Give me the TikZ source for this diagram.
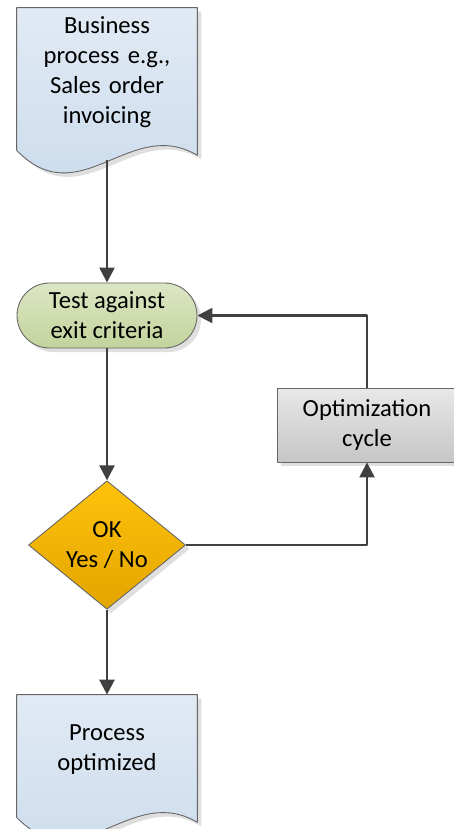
\documentclass[tikz,border=0pt]{standalone}
\usepackage{fontspec}
\setmainfont{Carlito}
\usepackage{tikz}
\usetikzlibrary{positioning,arrows.meta,calc,shapes.geometric,shadows}

% wavy lower edge of a document symbol, built on a node's anchors
\newcommand\docoutline[1]{(#1.north west) -- (#1.north east) -- ($(#1.south east)+(0,-0.1)$)
  .. controls ($(#1.south)+(0.46,0.7)$) and ($(#1.south)+(-0.54,-1.3)$) .. (#1.south west) -- cycle}

\definecolor{docTop}{HTML}{E1EAF4}
\definecolor{docBot}{HTML}{C9DAEC}
\definecolor{termTop}{HTML}{DCE6C4}
\definecolor{termBot}{HTML}{C3D39C}
\definecolor{decTop}{HTML}{FFC20A}
\definecolor{decBot}{HTML}{E3A500}
\definecolor{optTop}{HTML}{E8E8E8}
\definecolor{optBot}{HTML}{C6C6C6}
\definecolor{edge}{HTML}{404040}

\begin{document}
\begin{tikzpicture}[
    font=\fontsize{14}{17}\selectfont,
    line join=round,
    >={Triangle[width=0.3cm,length=0.3cm]},
    every node/.style={inner sep=2pt},
    docbox/.style={minimum width=3.6cm, text width=3.4cm, align=center},
    docfill/.style={draw=gray!80!black, line width=0.5pt, top color=docTop, bottom color=docBot,
        drop shadow={shadow xshift=0.08cm, shadow yshift=-0.08cm, fill=black!25}},
    term/.style={draw=gray!80!black, line width=0.5pt, rounded corners=0.65cm,
        top color=termTop, bottom color=termBot, minimum width=3.6cm, minimum height=1.3cm,
        align=center, drop shadow={shadow xshift=0.08cm, shadow yshift=-0.08cm, fill=black!25}},
    decision/.style={diamond, draw=gray!80!black, line width=0.5pt, top color=decTop, bottom color=decBot,
        minimum width=3.14cm, minimum height=2.34cm, inner sep=0pt, align=center,
        drop shadow={shadow xshift=0.08cm, shadow yshift=-0.08cm, fill=black!25}},
    opbox/.style={draw=gray!80!black, line width=0.5pt, top color=optTop, bottom color=optBot,
        minimum width=3.6cm, minimum height=1.48cm, align=center,
        drop shadow={shadow xshift=0.08cm, shadow yshift=-0.08cm, fill=black!25}},
    flow/.style={->, line width=1.4pt, edge}
]
\useasboundingbox (0,0) rectangle (9.06,-16.58);

% Documents (outline drawn first, text on top)
\node[docbox, minimum height=2.84cm] (bizproc) at (2.14,-1.58) {};
\node[docbox, minimum height=2.44cm] (result) at (2.14,-15.12) {};
\path[docfill] \docoutline{bizproc};
\path[docfill] \docoutline{result};
\node[docbox] at ($(bizproc.center)+(0,0.14)$) {Business\\process e.g.,\\Sales order\\invoicing};
\node[docbox] at ($(result.center)+(0,0.12)$) {Process\\optimized};

% Test, decision and loop
\node[term] (test) at (2.14,-6.31) {Test against\\exit criteria};
\node[decision] (check) at (2.14,-10.9) {OK\\Yes / No};
\node[opbox] (optim) at (7.34,-8.5) {Optimization\\cycle};

% Flow arrows
\draw[flow] (bizproc.south) ++(0,-0.2) coordinate (bizout) -- (test.north);
\draw[flow] (test.south) -- (check.north);
\draw[flow] (check.south) -- (result.north);
\draw[flow] (check.east) -| (optim.south);
\draw[flow] (optim.north) |- (test.east);

\end{tikzpicture}
\end{document}
